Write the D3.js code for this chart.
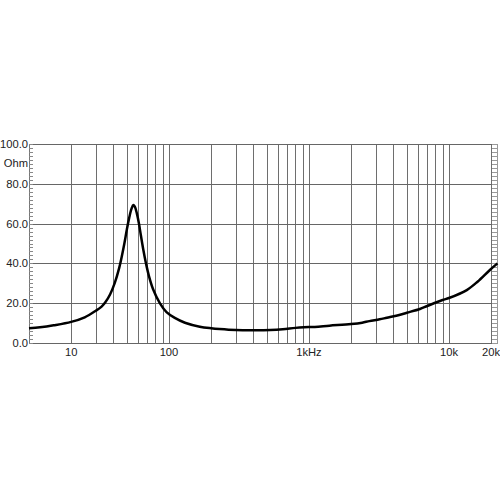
<!DOCTYPE html>
<html>
<head>
<meta charset="utf-8">
<script src="https://cdn.jsdelivr.net/npm/d3@7"></script>
<style>
  body { margin: 0; background: #fff; }
  text { font-family: "Liberation Sans", Arial, sans-serif; font-size: 11.2px; fill: #222; }
</style>
</head>
<body>
<svg id="chart" width="500" height="500"></svg>
<script>
// impedance curve
var freq = [10, 12, 15, 20, 25, 30, 33, 35, 38, 41, 44, 46, 48, 50, 52, 54, 55.6, 57, 59, 61, 63, 65.5, 68.5, 72, 77, 86, 96, 110, 130, 166, 200, 230, 300, 400, 530, 650, 800, 920, 1100, 1400, 2000, 2400, 2700, 3200, 3600, 4200, 5000, 6200, 7000, 9000, 10000, 13400, 16000, 19600, 22200];
var ohm = [7.4, 7.9, 8.9, 10.6, 12.9, 16.2, 18.3, 20.3, 24.5, 30.2, 37.5, 43.5, 50, 57, 63, 67.5, 69.3, 68.5, 65, 60, 54, 47, 40, 33.5, 27, 20, 15.5, 12.6, 10.2, 8.2, 7.4, 7.0, 6.5, 6.4, 6.5, 6.9, 7.6, 7.9, 8.1, 8.7, 9.5, 10.2, 11.0, 11.9, 12.7, 13.7, 15.2, 17.1, 18.6, 21.6, 22.6, 26.6, 30.8, 36.7, 40];

var gridFreqs = [20, 30, 40, 50, 60, 70, 80, 90,
                 100, 200, 300, 400, 500, 600, 700, 800, 900,
                 1000, 2000, 3000, 4000, 5000, 6000, 7000, 8000, 9000,
                 10000, 20000];
var xTickFreqs = [20, 100, 1000, 10000, 20000];
var xTickLabels = ["10", "100", "1kHz", "10k", "20k"];
var yTicks = [0, 20, 40, 60, 80, 100];
var yTickLabels = ["0.0", "20.0", "40.0", "60.0", "80.0", "100.0"];
var unitLabel = "Ohm";

var plotLeft = 29, plotRight = 498, plotTop = 144, plotBottom = 343;

var svg = d3.select("#chart");
var x = d3.scaleLog().domain([10, 22400]).range([plotLeft, plotRight]);
var y = d3.scaleLinear().domain([0, 100]).range([plotBottom, plotTop]);

var px = function(v) { return Math.round(v) + 0.5; };

// vertical grid
svg.append("g").selectAll("line")
  .data(gridFreqs)
  .enter().append("line")
  .attr("x1", function(d) { return px(x(d)); })
  .attr("x2", function(d) { return px(x(d)); })
  .attr("y1", plotTop).attr("y2", plotBottom)
  .attr("stroke", "#6e6e6e").attr("stroke-width", 1);

// horizontal grid
svg.append("g").selectAll("line")
  .data(yTicks)
  .enter().append("line")
  .attr("x1", plotLeft).attr("x2", plotRight)
  .attr("y1", function(d) { return px(y(d)); })
  .attr("y2", function(d) { return px(y(d)); })
  .attr("stroke", "#666").attr("stroke-width", 1);

// frame sides
svg.append("line").attr("x1", px(plotLeft)).attr("x2", px(plotLeft))
  .attr("y1", plotTop).attr("y2", plotBottom + 0.5)
  .attr("stroke", "#777");
svg.append("line").attr("x1", plotRight - 0.5).attr("x2", plotRight - 0.5)
  .attr("y1", plotTop).attr("y2", plotBottom + 0.5)
  .attr("stroke", "#999");

// small inside ticks every 2 ohm on both sides
var minor = d3.range(0, 101, 2);
svg.append("g").selectAll("line")
  .data(minor)
  .enter().append("line")
  .attr("x1", plotLeft).attr("x2", plotLeft + 4)
  .attr("y1", function(d) { return px(y(d)); })
  .attr("y2", function(d) { return px(y(d)); })
  .attr("stroke", "#888");
svg.append("g").selectAll("line")
  .data(minor)
  .enter().append("line")
  .attr("x1", plotRight - 6).attr("x2", plotRight)
  .attr("y1", function(d) { return px(y(d)); })
  .attr("y2", function(d) { return px(y(d)); })
  .attr("stroke", "#999");

// y labels
svg.append("g").selectAll("text")
  .data(yTicks)
  .enter().append("text")
  .attr("x", 28)
  .attr("y", function(d) { return y(d); })
  .attr("dy", "0.35em")
  .attr("text-anchor", "end")
  .text(function(d, i) { return yTickLabels[i]; });
svg.append("text")
  .attr("x", 28).attr("y", y(90.5)).attr("dy", "0.35em")
  .attr("text-anchor", "end")
  .text(unitLabel);

// x labels
svg.append("g").selectAll("text")
  .data(xTickFreqs)
  .enter().append("text")
  .attr("x", function(d) { return x(d); })
  .attr("y", 356)
  .attr("text-anchor", "middle")
  .text(function(d, i) { return xTickLabels[i]; });

// curve
var pts = freq.map(function(f, i) { return [f, ohm[i]]; });
var line = d3.line()
  .x(function(d) { return x(d[0]); })
  .y(function(d) { return y(d[1]); })
  .curve(d3.curveCatmullRom.alpha(0.5));
svg.append("path")
  .datum(pts)
  .attr("fill", "none")
  .attr("stroke", "#000")
  .attr("stroke-width", 2.5)
  .attr("stroke-linejoin", "round")
  .attr("d", line);
</script>
</body>
</html>
